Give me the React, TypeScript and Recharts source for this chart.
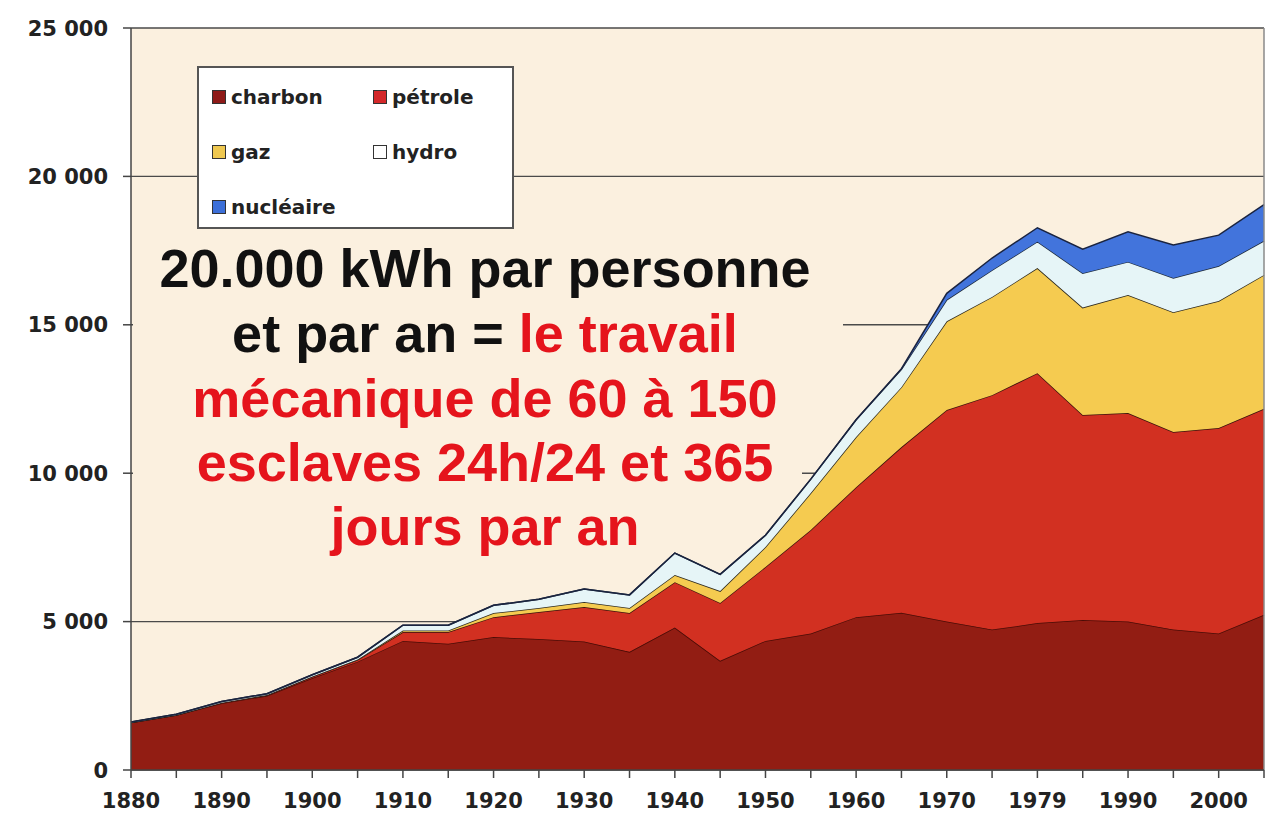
import React from 'react';
import { AreaChart, Area, XAxis, YAxis, CartesianGrid, Legend, ReferenceLine } from 'recharts';

const years = ['1880', '1885', '1890', '1895', '1900', '1905', '1910', '1915', '1920', '1925', '1930', '1935', '1940', '1945', '1950', '1955', '1960', '1965', '1970', '1975', '1979', '1985', '1990', '1995', '2000', '2005'];
const charbon = [1600, 1850, 2250, 2500, 3100, 3650, 4350, 4250, 4480, 4410, 4330, 3980, 4800, 3680, 4350, 4600, 5150, 5300, 5000, 4730, 4950, 5050, 5000, 4730, 4600, 5230];
const petrole = [0, 0, 20, 30, 50, 60, 300, 400, 670, 910, 1160, 1310, 1530, 1950, 2490, 3490, 4380, 5580, 7130, 7900, 8420, 6910, 7030, 6660, 6920, 6940];
const gaz = [0, 0, 0, 0, 0, 10, 50, 50, 140, 140, 170, 170, 240, 400, 670, 1240, 1690, 2020, 2990, 3310, 3540, 3620, 3970, 4030, 4280, 4510];
const hydro = [20, 30, 40, 40, 60, 80, 180, 180, 260, 290, 440, 440, 740, 560, 400, 470, 580, 600, 720, 900, 890, 1160, 1120, 1160, 1180, 1150];
const nucleaire = [0, 0, 0, 0, 0, 0, 0, 0, 0, 0, 0, 0, 0, 0, 0, 0, 0, 20, 220, 410, 470, 810, 1010, 1110, 1040, 1220];
const yTicks = [0, 5000, 10000, 15000, 20000, 25000];

const data = years.map((year, i) => ({
  year,
  charbon: charbon[i],
  petrole: petrole[i],
  gaz: gaz[i],
  hydro: hydro[i],
  nucleaire: nucleaire[i],
}));

const series = [
  { key: 'charbon', name: 'charbon', fill: '#921D13', stroke: '#4a0c06', swatch: '#8E1A18' },
  { key: 'petrole', name: 'pétrole', fill: '#D23021', stroke: '#3a120c', swatch: '#D4282A' },
  { key: 'gaz', name: 'gaz', fill: '#F5CB50', stroke: '#2e2a20', swatch: '#EFC850' },
  { key: 'hydro', name: 'hydro', fill: '#E6F5F7', stroke: '#1e2a3a', swatch: '#FFFFFF' },
  { key: 'nucleaire', name: 'nucléaire', fill: '#4274DC', stroke: '#1a2440', swatch: '#3C6FD8' },
];

const fmt = (v: number) => {
  const s = String(Math.round(v));
  return s.replace(/\B(?=(\d{3})+(?!\d))/g, ' ');
};

const axisFont = "'DejaVu Sans', Verdana, sans-serif";
const BG = '#FBF0DF';

const XTick = (props: any) => {
  const { x, y, payload, index } = props;
  if (index % 2 !== 0) return null;
  return (
    <text x={x} y={y} dy="0.71em" textAnchor="middle" fontFamily={axisFont} fontWeight="bold" fontSize={21} fill="#222">
      {payload.value}
    </text>
  );
};

const YTick = (props: any) => {
  const { x, y, payload } = props;
  return (
    <text x={x} y={y} dy="0.36em" textAnchor="end" fontFamily={axisFont} fontWeight="bold" fontSize={21} fill="#222">
      {fmt(payload.value)}
    </text>
  );
};

const legendPos = [
  { col: 0, row: 0 },
  { col: 1, row: 0 },
  { col: 0, row: 1 },
  { col: 1, row: 1 },
  { col: 0, row: 2 },
];

const LegendBox = () => (
  <div
    style={{
      position: 'relative',
      width: 317,
      height: 163,
      boxSizing: 'border-box',
      border: '2px solid #555',
      background: '#ffffff',
    }}
  >
    {series.map((s, i) => {
      const p = legendPos[i];
      const left = 13 + p.col * 161;
      const top = 17 + p.row * 55;
      return (
        <div key={s.key} style={{ position: 'absolute', left, top, display: 'flex', alignItems: 'center', height: 24 }}>
          <div style={{ width: 14, height: 14, boxSizing: 'border-box', background: s.swatch, border: '1px solid #333', marginRight: 5 }} />
          <span style={{ fontFamily: axisFont, fontWeight: 'bold', fontSize: 20, color: '#222', lineHeight: '24px' }}>{s.name}</span>
        </div>
      );
    })}
  </div>
);

const lineStyle: React.CSSProperties = {
  position: 'absolute',
  left: 135,
  width: 700,
  textAlign: 'center',
  fontFamily: "'Liberation Sans', Arial, sans-serif",
  fontWeight: 'bold',
  fontSize: 54,
  lineHeight: '64px',
  whiteSpace: 'nowrap',
};

const RED = '#E5141C';

export default function App() {
  return (
    <div style={{ position: 'absolute', left: 0, top: 0, width: 1269, height: 819, background: '#ffffff', overflow: 'hidden' }}>
      <AreaChart width={1269} height={819} data={data} margin={{ top: 28, right: 5, bottom: 9, left: 0 }}>
        <CartesianGrid vertical={false} horizontal={true} stroke="#4a4a4a" strokeWidth={1.4} fill={BG} fillOpacity={1} />
        <XAxis
          dataKey="year"
          interval={0}
          height={40}
          tickSize={8}
          tickMargin={15}
          tick={<XTick />}
          axisLine={{ stroke: '#444', strokeWidth: 1.5 }}
          tickLine={{ stroke: '#444', strokeWidth: 1.5 }}
        />
        <YAxis
          width={131}
          domain={[0, 25000]}
          ticks={yTicks}
          interval={0}
          tickSize={8}
          tickMargin={15}
          tick={<YTick />}
          axisLine={{ stroke: '#444', strokeWidth: 1.5 }}
          tickLine={{ stroke: '#444', strokeWidth: 1.5 }}
        />
        {series.map((s) => (
          <Area
            key={s.key}
            type="linear"
            dataKey={s.key}
            name={s.name}
            stackId="1"
            fill={s.fill}
            fillOpacity={1}
            stroke={s.stroke}
            strokeWidth={1.5}
            dot={false}
            activeDot={false}
            isAnimationActive={false}
          />
        ))}
        <ReferenceLine x="2005" stroke="#8a8a8a" strokeWidth={1.5} />
        <Legend
          layout="horizontal"
          verticalAlign="middle"
          align="center"
          content={() => <LegendBox />}
          wrapperStyle={{ position: 'absolute', left: 197, top: 66, width: 317, height: 163 }}
        />
      </AreaChart>
      <div style={{ position: 'absolute', left: 133, top: 318, width: 710, height: 14, background: BG }} />
      <div style={{ position: 'absolute', left: 133, top: 466, width: 669, height: 14, background: BG }} />
      <div style={{ ...lineStyle, top: 236, color: '#111' }}>20.000 kWh par personne</div>
      <div style={{ ...lineStyle, top: 301, color: '#111' }}>
        et par an = <span style={{ color: RED }}>le travail</span>
      </div>
      <div style={{ ...lineStyle, top: 366, color: RED }}>mécanique de 60 à 150</div>
      <div style={{ ...lineStyle, top: 430, color: RED }}>esclaves 24h/24 et 365</div>
      <div style={{ ...lineStyle, top: 494, color: RED }}>jours par an</div>
    </div>
  );
}
